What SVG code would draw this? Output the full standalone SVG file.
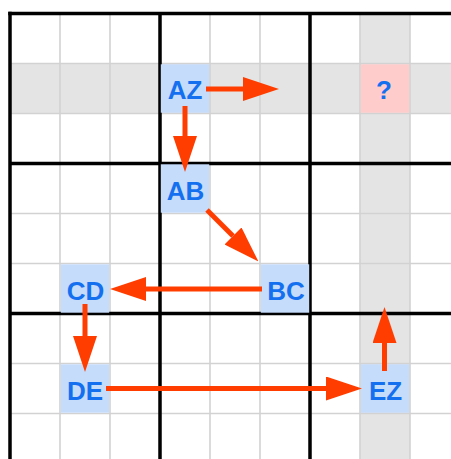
<svg xmlns="http://www.w3.org/2000/svg" width="451" height="459" viewBox="0 0 451 459">
<style>
.hl{fill:#e4e4e4}
.cell{fill:#c6dcfb}
.q{fill:#ffcccc}
.thin{stroke:#d2d2d2;stroke-width:1.6;fill:none}
.thick{stroke:#000;stroke-width:3.5;fill:none}
.lbl{font-family:"Liberation Sans",Arial,Helvetica,sans-serif;font-weight:bold;font-size:26px;fill:#1570f0;text-anchor:middle}
.arr{stroke:#ff3d00;stroke-width:5;fill:none;marker-end:url(#ah)}
</style>
<defs>
<marker id="ah" markerUnits="userSpaceOnUse" markerWidth="36" markerHeight="24" refX="0" refY="12" orient="auto" viewBox="0 0 36 24">
<path d="M0,0 L36,12 L0,24 Z" fill="#ff3d00"/>
</marker>
</defs>
<rect width="451" height="459" fill="#fff"/>
<g id="highlights">
<rect class="hl" x="10" y="63.5" width="441" height="50"/>
<rect class="hl" x="360" y="13.5" width="50" height="446"/>
</g>
<g id="grid">
<path class="thin" d="M60,13.5V459M110,13.5V459M210,13.5V459M260,13.5V459M360,13.5V459M410,13.5V459"/>
<path class="thin" d="M10,63.5H451M10,113.5H451M10,213.5H451M10,263.5H451M10,363.5H451M10,413.5H451"/>
<path class="thick" d="M10,11.75V459M160,13.5V459M310,13.5V459"/>
<path class="thick" d="M8.25,13.5H451M10,163.5H451M10,313.5H451"/>
</g>
<g id="node-AZ"><rect class="cell" x="160.8" y="64.3" width="48.4" height="48.4"/><text class="lbl" x="185" y="99">AZ</text></g>
<g id="node-AB"><rect class="cell" x="160.8" y="164.3" width="48.4" height="48.4"/><text class="lbl" x="185.5" y="199.5">AB</text></g>
<g id="node-BC"><rect class="cell" x="260.8" y="264.3" width="48.4" height="48.4"/><text class="lbl" x="286" y="299.5">BC</text></g>
<g id="node-CD"><rect class="cell" x="60.8" y="264.3" width="48.4" height="48.4"/><text class="lbl" x="85.5" y="299.5">CD</text></g>
<g id="node-DE"><rect class="cell" x="60.8" y="364.3" width="48.4" height="48.4"/><text class="lbl" x="85" y="399.5">DE</text></g>
<g id="node-EZ"><rect class="cell" x="360.8" y="364.3" width="48.4" height="48.4"/><text class="lbl" x="385.5" y="399.5">EZ</text></g>
<g id="node-Q"><rect class="q" x="360.8" y="64.3" width="48.4" height="48.4"/><text class="lbl" x="384" y="99">?</text></g>
<g id="connectors">
<line class="arr" x1="206" y1="89" x2="243" y2="89"/>
<line class="arr" x1="185" y1="106" x2="185" y2="136"/>
<line class="arr" x1="207" y1="210" x2="233" y2="236"/>
<line class="arr" x1="262" y1="289" x2="146" y2="289"/>
<line class="arr" x1="85" y1="304" x2="85" y2="336"/>
<line class="arr" x1="106" y1="388.5" x2="326" y2="388.5"/>
<line class="arr" x1="384.5" y1="371" x2="384.5" y2="343"/>
</g>
</svg>
